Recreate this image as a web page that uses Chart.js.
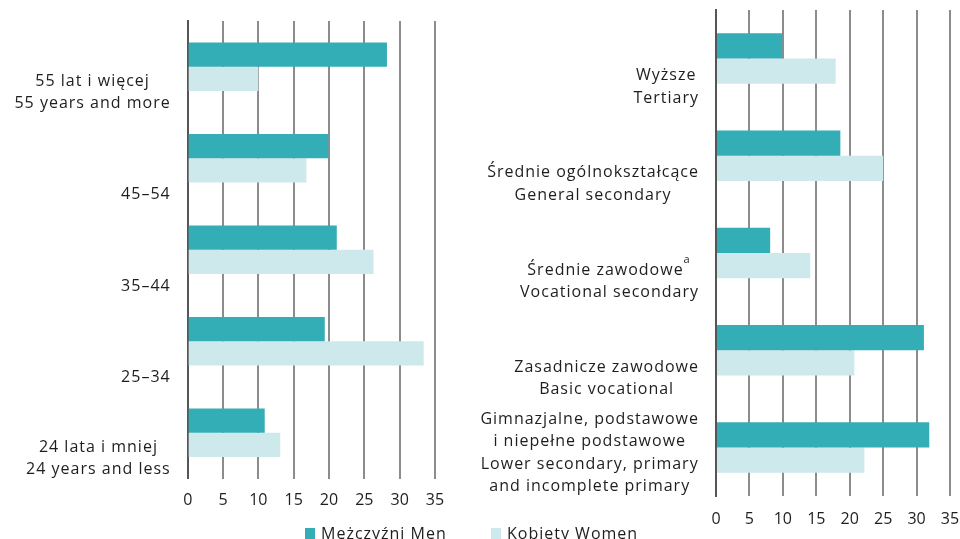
<!DOCTYPE html>
<html><head><meta charset="utf-8">
<script src="https://cdn.jsdelivr.net/npm/chart.js@4/dist/chart.umd.min.js"></script>
<style>
html,body{margin:0;padding:0;background:#fff;width:960px;height:539px;overflow:hidden;}
#wl{position:absolute;left:0;top:0;width:480px;height:539px;}
#wr{position:absolute;left:480px;top:0;width:480px;height:539px;}
.leg{position:absolute;font:16px 'Open Sans';color:#1e1e1e;white-space:nowrap;line-height:16px;letter-spacing:1px;}
.sw{position:absolute;width:10px;height:12px;}
</style></head><body>
<div id="wl"><canvas id="c1" width="480" height="539"></canvas></div>
<div id="wr"><canvas id="c2" width="480" height="539"></canvas></div>
<div id="legend"></div>
<script>
// ---- data ----
const ageCategories = [
  ['55 lat i więcej', '55 years and more'],
  ['45–54'],
  ['35–44'],
  ['25–34'],
  ['24 lata i mniej', '24 years and less']
];
const ageMen   = [28.2, 19.9, 21.1, 19.4, 10.9];
const ageWomen = [10.0, 16.8, 26.3, 33.4, 13.1];

const eduCategories = [
  ['Wyższe', 'Tertiary'],
  ['Średnie ogólnokształcące', 'General secondary'],
  ['Średnie zawodowe', 'Vocational secondary'],
  ['Zasadnicze zawodowe', 'Basic vocational'],
  ['Gimnazjalne, podstawowe', 'i niepełne podstawowe', 'Lower secondary, primary', 'and incomplete primary']
];
const eduFootnotes = ['', '', 'a', '', ''];
const eduMen   = [9.9, 18.6, 8.1, 31.1, 31.9];
const eduWomen = [17.9, 25.0, 14.1, 20.7, 22.2];

const xTickValues = [0, 5, 10, 15, 20, 25, 30, 35];
const seriesNames = ['Mężczyźni Men', 'Kobiety Women'];
const seriesColors = ['#34aeb6', '#cde9ec'];

// ---- rendering ----
const FONT = "'Open Sans', 'Noto Sans', sans-serif";
const TEXT = '#1e1e1e';

const sideLabels = {
  id: 'sideLabels',
  afterDraw(chart, args, o) {
    const ys = chart.scales.y, ctx = chart.ctx;
    ctx.save();
    ctx.fillStyle = TEXT;
    ctx.textBaseline = 'middle';
    ctx.letterSpacing = '1px';
    o.labels.forEach((lines, i) => {
      const py = ys.getPixelForValue(i);
      const fn = (o.footnotes && o.footnotes[i]) || '';
      ctx.font = '16px ' + FONT;
      const mw = lines.map(l => ctx.measureText(l).width);
      ctx.font = '11px ' + FONT;
      const fw = fn ? ctx.measureText(fn).width + 1 : 0;
      const widths = mw.map((w, j) => j === 0 ? w + fw : w);
      const block = Math.max(...widths);
      const cx = ys.right - o.pad - block / 2;
      const n = lines.length;
      lines.forEach((l, j) => {
        const ly = py + o.offset - (n - 1 - j) * o.lh;
        const x0 = cx - widths[j] / 2;
        ctx.font = '16px ' + FONT;
        ctx.textAlign = 'left';
        ctx.fillText(l, x0, ly);
        if (j === 0 && fn) {
          ctx.font = '11px ' + FONT;
          ctx.fillText(fn, x0 + mw[j], ly - 10);
        }
      });
    });
    ctx.restore();
  }
};

function makeChart(id, cats, men, women, cfg) {
  return new Chart(document.getElementById(id), {
    type: 'bar',
    data: {
      labels: cats.map(c => c.join(' ')),
      datasets: [
        { label: seriesNames[0], data: men, backgroundColor: seriesColors[0], borderWidth: 0 },
        { label: seriesNames[1], data: women, backgroundColor: seriesColors[1], borderWidth: 0 }
      ]
    },
    options: {
      indexAxis: 'y',
      responsive: false,
      animation: false,
      layout: { autoPadding: false, padding: { left: 0, right: cfg.padRight, top: cfg.top, bottom: cfg.padBottom } },
      datasets: { bar: { categoryPercentage: cfg.cp, barPercentage: 1 } },
      plugins: {
        legend: { display: false },
        tooltip: { enabled: false },
        sideLabels: { labels: cats, footnotes: cfg.footnotes, pad: 17, offset: cfg.offset, lh: cfg.lh }
      },
      scales: {
        x: {
          min: 0, max: 35,
          afterBuildTicks: s => { s.ticks = xTickValues.map(v => ({ value: v })); },
          afterFit: s => { s.height = 40; s.paddingLeft = 0; s.paddingRight = 0; },
          grid: { color: '#8c8c8c', lineWidth: 2, drawTicks: false },
          border: { display: false },
          ticks: { padding: cfg.tickPad, color: TEXT, font: { family: FONT, size: 16 } }
        },
        y: {
          afterFit: s => { s.width = cfg.axisX; },
          grid: { display: false, drawTicks: false },
          border: { display: true, color: '#555555', width: 2 },
          ticks: { display: false }
        }
      }
    },
    plugins: [sideLabels]
  });
}

makeChart('c1', ageCategories, ageMen, ageWomen, {
  axisX: 187.7, padRight: 45, top: 21, padBottom: 539 - 40 - 478.5,
  cp: 0.53, tickPad: 12, offset: 36.5, lh: 21.7, footnotes: null
});
makeChart('c2', eduCategories, eduMen, eduWomen, {
  axisX: 236, padRight: 10, top: 10, padBottom: 539 - 40 - 496,
  cp: 0.52, tickPad: 14, offset: 39.5, lh: 22.5, footnotes: eduFootnotes
});

// legend (HTML, built from series arrays)
const leg = document.getElementById('legend');
const legPos = [{ sw: 305, tx: 321 }, { sw: 491, tx: 507 }];
seriesNames.forEach((name, i) => {
  const s = document.createElement('div');
  s.className = 'sw';
  s.style.left = legPos[i].sw + 'px';
  s.style.top = '528px';
  s.style.background = seriesColors[i];
  leg.appendChild(s);
  const t = document.createElement('div');
  t.className = 'leg';
  t.style.left = legPos[i].tx + 'px';
  t.style.top = '525px';
  t.textContent = name;
  leg.appendChild(t);
});
</script>
</body></html>
